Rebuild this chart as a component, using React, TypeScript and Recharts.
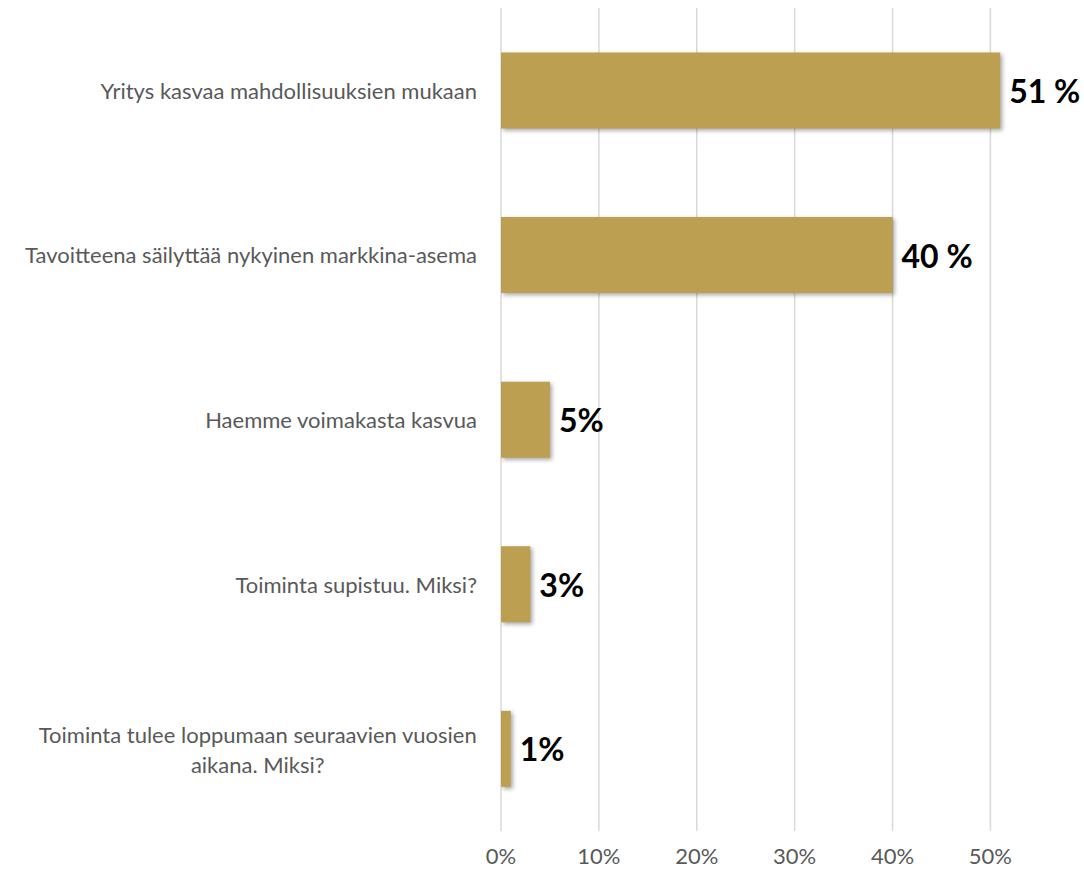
import { BarChart, Bar, XAxis, YAxis, CartesianGrid, LabelList } from 'recharts'

const CATEGORIES = [
  'Yritys kasvaa mahdollisuuksien mukaan',
  'Tavoitteena säilyttää nykyinen markkina-asema',
  'Haemme voimakasta kasvua',
  'Toiminta supistuu. Miksi?',
  'Toiminta tulee loppumaan seuraavien vuosien\naikana. Miksi?',
]

const SHARES = [0.51, 0.4, 0.05, 0.03, 0.01]

const VALUE_LABELS = ['51 %', '40 %', '5%', '3%', '1%']

const X_TICKS = [0, 0.1, 0.2, 0.3, 0.4, 0.5]
const X_MAX = 0.52

const FONT = 'Lato, sans-serif'
const CAT_SIZE = 22
const GOLD = '#BD9F51'
const GREY_TEXT = '#595959'

const data = CATEGORIES.map((name, i) => ({ name, share: SHARES[i], label: VALUE_LABELS[i] }))

let ctx: CanvasRenderingContext2D | null = null
function textWidth(s: string, font: string) {
  if (!ctx) ctx = document.createElement('canvas').getContext('2d')
  if (!ctx) return s.length * 8
  ctx.font = font
  return ctx.measureText(s).width
}

function CategoryTick(props: any) {
  const { x, y, payload } = props
  const lines: string[] = String(payload.value).split('\n')
  if (lines.length === 1) {
    return (
      <text x={x} y={y} textAnchor="end" dominantBaseline="central" fill={GREY_TEXT} fontSize={CAT_SIZE} fontFamily={FONT}>
        {lines[0]}
      </text>
    )
  }
  const widest = Math.max(...lines.map(l => textWidth(l, `${CAT_SIZE}px ${FONT}`)))
  const cx = x - widest / 2
  const lineH = 30
  const top = y - ((lines.length - 1) * lineH) / 2
  return (
    <text textAnchor="middle" dominantBaseline="central" fill={GREY_TEXT} fontSize={CAT_SIZE} fontFamily={FONT}>
      {lines.map((l, i) => (
        <tspan key={i} x={cx} y={top + i * lineH}>{l}</tspan>
      ))}
    </text>
  )
}

function ValueLabel(props: any) {
  const { x, y, width, height, value } = props
  return (
    <text
      x={x + width + 9}
      y={y + height / 2}
      dominantBaseline="central"
      fontSize={32}
      fontWeight={700}
      fontFamily={FONT}
      fill="#000"
    >
      {value}
    </text>
  )
}

// grid only at the labelled ticks, not at the domain end
const gridX = ({ xAxis, offset }: any) => {
  if (xAxis && typeof xAxis.scale === 'function') return X_TICKS.map(t => xAxis.scale(t))
  return X_TICKS.map(t => offset.left + (t / X_MAX) * offset.width)
}

export default function App() {
  return (
    <div style={{ position: 'fixed', left: 0, top: 0, width: 1084, height: 872, background: '#fff' }}>
      <BarChart
        width={1084}
        height={872}
        data={data}
        layout="vertical"
        margin={{ top: 8, right: 74, bottom: 0, left: 0 }}
        barCategoryGap="27%"
      >
        <CartesianGrid horizontal={false} stroke="#D9D9D9" strokeWidth={1.5} verticalCoordinatesGenerator={gridX} />
        <XAxis
          type="number"
          domain={[0, X_MAX]}
          ticks={X_TICKS}
          allowDataOverflow
          axisLine={false}
          tickLine={false}
          tickMargin={11}
          height={41}
          tickFormatter={v => `${Math.round(v * 100)}%`}
          tick={{ fill: GREY_TEXT, fontSize: CAT_SIZE, fontFamily: FONT }}
        />
        <YAxis
          type="category"
          dataKey="name"
          width={501}
          axisLine={false}
          tickLine={false}
          tickMargin={18}
          tick={<CategoryTick />}
          interval={0}
        />
        <Bar
          dataKey="share"
          fill={GOLD}
          isAnimationActive={false}
          style={{ filter: 'drop-shadow(2px 2px 2px rgba(0,0,0,0.35))' }}
        >
          <LabelList dataKey="label" content={<ValueLabel />} />
        </Bar>
      </BarChart>
    </div>
  )
}
